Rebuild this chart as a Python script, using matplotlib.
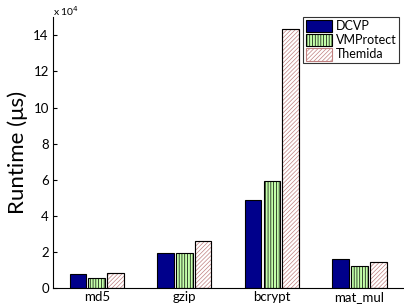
import numpy as np
import matplotlib
matplotlib.use("Agg")
import matplotlib.pyplot as plt

# === data (runtime in microseconds) =========================================
benchmarks = ["md5", "gzip", "bcrypt", "mat_mul"]
dcvp       = [0.75e4, 1.95e4, 4.85e4, 1.6e4]
vmprotect  = [0.55e4, 1.95e4, 5.9e4, 1.2e4]
themida    = [0.8e4, 2.6e4, 14.35e4, 1.45e4]
# ============================================================================

plt.rcParams['font.family'] = ['Lato', 'DejaVu Sans']
plt.rcParams['hatch.linewidth'] = 0.5

fig = plt.figure(figsize=(4.04, 3.04), dpi=100)
ax = fig.add_axes([0.131, 0.053, 0.867, 0.89])

x = np.arange(1, len(benchmarks) + 1)
w = 0.19
off = 0.215

ax.bar(x - off, np.array(dcvp) / 1e4, w, color="#00008b", edgecolor="black", lw=0.8, label="DCVP")
plt.rcParams['hatch.color'] = "#88ee66"
ax.bar(x, np.array(vmprotect) / 1e4, w, color="#c4ffaa", edgecolor="black", lw=0.8,
       hatch="||||||", label="VMProtect")
ax.bar(x + off, np.array(themida) / 1e4, w, color="white", edgecolor="#c08080", lw=0.8,
       hatch="////////", label="Themida")
# black outline on top of the hatched bars
ax.bar(x + off, np.array(themida) / 1e4, w, color="none", edgecolor="black", lw=0.8)

ax.set_xlim(0.5, 4.5)
ax.set_ylim(0, 15)
ax.set_yticks(range(0, 15, 2))
ax.set_xticks(x)
ax.set_xticklabels(benchmarks)
ax.tick_params(axis="y", direction="in", length=3, labelsize=9.5, pad=3)
ax.tick_params(axis="x", length=0, labelsize=9.5, pad=2)
ax.spines["top"].set_visible(False)
ax.spines["right"].set_visible(False)
ax.set_ylabel("Runtime (μs)", fontsize=16, labelpad=4)
ax.text(0.0, 0.998, r"x 10$^4$", transform=ax.transAxes, fontsize=7.5, ha="left", va="bottom")

leg = ax.legend(loc="upper right", fontsize=9, frameon=True, fancybox=False,
                edgecolor="black", borderpad=0.2, labelspacing=0.1,
                handlelength=2.1, handleheight=1.2, handletextpad=0.3,
                borderaxespad=0.2, bbox_to_anchor=(0.995, 1.01))
leg.get_frame().set_linewidth(0.8)

fig.savefig("out.png", dpi=100)
